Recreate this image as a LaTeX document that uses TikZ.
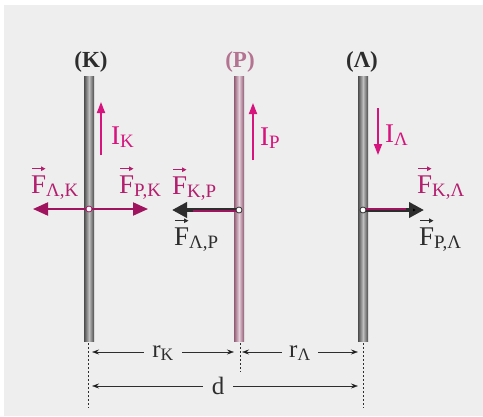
\documentclass[tikz,border=0pt]{standalone}
\usepackage{graphicx}
\usepackage{fontspec}
\setmainfont{Liberation Serif}
\usetikzlibrary{arrows.meta}
\definecolor{bg}{RGB}{238,238,238}
\definecolor{mag}{RGB}{180,30,110}
\definecolor{magline}{RGB}{160,20,95}
\definecolor{curr}{RGB}{215,20,125}
\definecolor{dark}{RGB}{45,45,45}
\definecolor{pcol}{RGB}{180,115,145}
\newcommand\vF{\leavevmode\rlap{\hbox to 0.56em{\hss\tikz[baseline=0pt,x=1pt,y=1pt]{\draw[line width=0.9pt,-{Triangle[length=4.5pt,width=4.5pt]}] (0,0.9em) -- (0.5em,0.9em);}\hss}}F}
\tikzset{
  wire/.style={left color=black!70, right color=black!70, middle color=black!25},
  pwire/.style={left color=pcol!80!black, right color=pcol!80!black, middle color=pcol!35},
  flab/.style={font=\fontsize{27}{29}\selectfont, inner sep=0pt, anchor=base west},
  ilab/.style={font=\fontsize{27}{29}\selectfont, text=curr, inner sep=0pt, anchor=base west},
  wlab/.style={font=\fontsize{23}{25}\selectfont\bfseries, inner sep=0pt, anchor=base},
  dimlab/.style={font=\fontsize{25}{27}\selectfont, text=dark, fill=bg, anchor=base, inner ysep=2pt},
  dimarrow/.style={draw=dark, line width=0.6pt, {Stealth[length=7pt,width=5pt]}-{Stealth[length=7pt,width=5pt]}},
  dashline/.style={draw=dark, line width=0.6pt, dash pattern=on 2pt off 2pt},
  force/.style={draw=magline, line width=2pt, -{Triangle[length=15pt,width=13pt]}},
  darkforce/.style={draw=dark, line width=4.5pt, -{Triangle[length=15pt,width=15pt]}},
  pt/.style={circle, draw=dark, fill=white, line width=0.8pt, inner sep=0pt, minimum size=6pt},
  current/.style={draw=curr, line width=1.8pt, -{Triangle[length=11pt,width=8pt]}}
}
\begin{document}
\begin{tikzpicture}[x=1pt,y=-1pt]
\useasboundingbox (0,0) rectangle (483,416);
\fill[white] (0,0) rectangle (483,416);
\fill[bg] (4,5) rectangle (483,416);
% dashed extension lines
\coordinate (kb) at (88,343); \coordinate (ke) at (88,408);
\coordinate (pb) at (240,343); \coordinate (pe) at (240,372);
\coordinate (lb) at (363,343); \coordinate (le) at (363,408);
\draw[dashline] (kb) -- (ke);
\draw[dashline] (pb) -- (pe);
\draw[dashline] (lb) -- (le);
% wires
\shade[wire] (84,76) rectangle (94,341);
\shade[pwire] (234,76) rectangle (244,341);
\shade[wire] (358,76) rectangle (368,341);
% wire labels
\node[wlab, text=dark] (lK) at (91,67) {(K)};
\node[wlab, text=pcol] (lP) at (240,67) {(P)};
\node[wlab, text=dark] (lL) at (362,67) {(Λ)};
% currents
\coordinate (iK1) at (101,155); \coordinate (iK2) at (101,102);
\coordinate (iP1) at (253,160); \coordinate (iP2) at (253,103);
\coordinate (iL1) at (378,108); \coordinate (iL2) at (378,155);
\draw[current] (iK1) -- (iK2);
\draw[current] (iP1) -- (iP2);
\draw[current] (iL1) -- (iL2);
\node[ilab] (tIK) at (111,144) {I\textsubscript{K}};
\node[ilab] (tIP) at (260,145) {I\textsubscript{P}};
\node[ilab] (tIL) at (385,142) {I\textsubscript{Λ}};
% forces on K
\coordinate (fK1) at (33,209); \coordinate (fK2) at (148,209);
\node[pt, draw=magline] (pK) at (89,209) {};
\draw[force] (pK) -- (fK1);
\draw[force] (pK) -- (fK2);
\node[flab, text=mag] (FLK) at (31,193) {\vF\textsubscript{Λ,K}};
\node[flab, text=mag] (FPK) at (119,193) {\vF\textsubscript{P,K}};
% forces on P
\coordinate (fP) at (172,210);
\draw[darkforce] (239,210) -- (fP);
\draw[draw=magline, line width=1.6pt] (239,211) -- (193,211);
\node[pt] (pP) at (239,210) {};
\node[flab, text=mag] (FKP) at (172,194) {\vF\textsubscript{K,P}};
\node[flab, text=dark] (FLP) at (174,245) {\vF\textsubscript{Λ,P}};
% forces on Lambda
\coordinate (fL) at (424,210);
\draw[darkforce] (363,210) -- (fL);
\draw[draw=magline, line width=1.6pt] (363,209) -- (406,209);
\node[pt] (pL) at (363,210) {};
\node[flab, text=mag] (FKL) at (417,193) {\vF\textsubscript{K,Λ}};
\node[flab, text=dark] (FPL) at (419,245) {\vF\textsubscript{P,Λ}};
% dimensions
\coordinate (rk1) at (92,352); \coordinate (rk2) at (234,352);
\coordinate (rl1) at (242,352); \coordinate (rl2) at (358,352);
\coordinate (d1) at (92,386); \coordinate (d2) at (358,386);
\draw[dimarrow] (rk1) -- (rk2);
\draw[dimarrow] (rl1) -- (rl2);
\draw[dimarrow] (d1) -- (d2);
\node[dimlab, inner xsep=8pt] (tRK) at (163,357) {r\textsubscript{K}};
\node[dimlab, inner xsep=7pt] (tRL) at (300,357) {r\textsubscript{Λ}};
\node[dimlab, inner xsep=9pt] (tD) at (218,394) {d};
\end{tikzpicture}
\end{document}
